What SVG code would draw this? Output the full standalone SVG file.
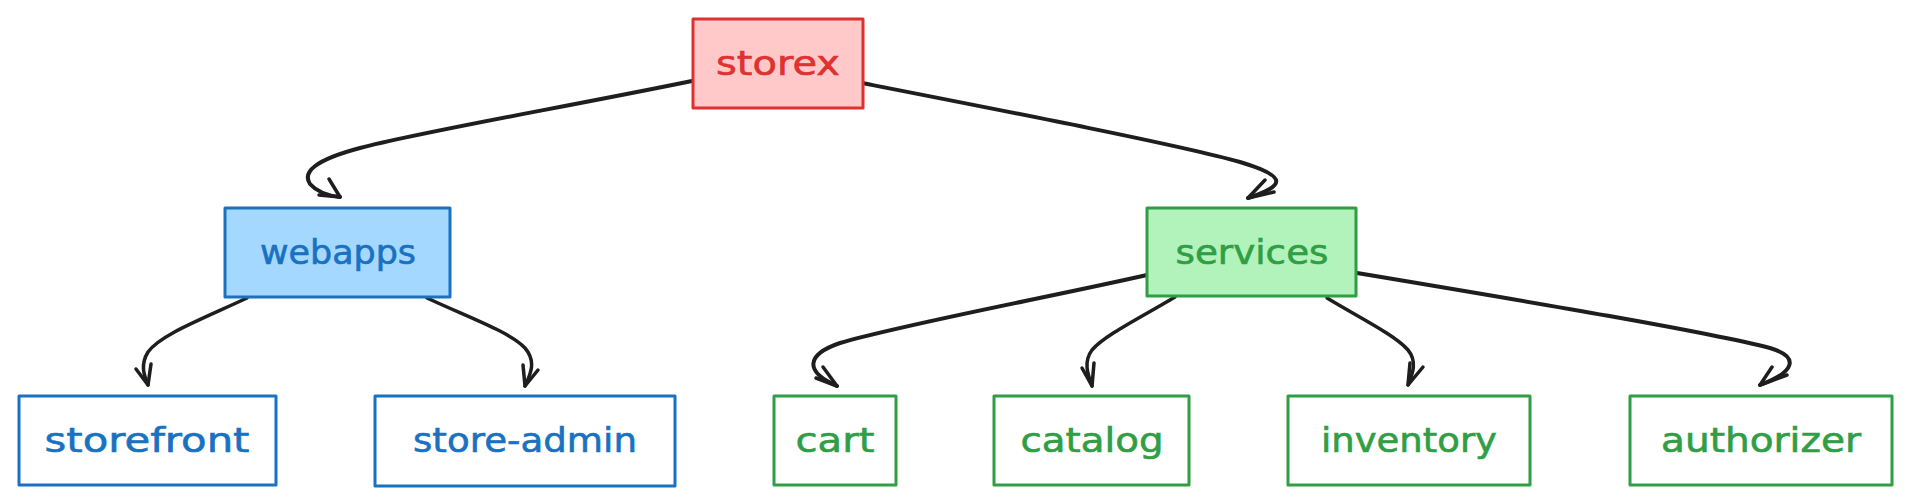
<svg xmlns="http://www.w3.org/2000/svg" width="1911" height="504" viewBox="0 0 1911 504">
<style>
  .box { stroke-width: 3; stroke-linejoin: round; }
  .red { fill: #ffc9c9; stroke: #e03131; }
  .blue { fill: #a5d8ff; stroke: #1971c2; }
  .green { fill: #b2f2bb; stroke: #2f9e44; }
  .leafb { fill: #ffffff; stroke: #1971c2; }
  .leafg { fill: #ffffff; stroke: #2f9e44; }
  .lbl { font-family: "DejaVu Sans", "Liberation Sans", sans-serif; font-size: 33px; text-anchor: middle; stroke-width: 0.6; }
  .tred { fill: #e03131; stroke: #e03131; }
  .tblue { fill: #1971c2; stroke: #1971c2; }
  .tgreen { fill: #2f9e44; stroke: #2f9e44; }
  .conn { fill: none; stroke: #1e1e1e; stroke-width: 4; stroke-linecap: round; stroke-linejoin: round; }
  .thin { stroke-width: 3.5; }
  .head { fill: none; stroke: #1e1e1e; stroke-width: 3.5; stroke-linecap: round; stroke-linejoin: round; }
</style>
<rect width="1911" height="504" fill="#ffffff"/>
<g id="connectors">
  <path class="conn" d="M692,81 C560,108 420,132 360,148 C315,160 302,172 310,184 C318,193 330,196 340,197"/>
  <path class="head" d="M329,179 L340,197 L319,195"/>
  <path class="conn" d="M862,83 C1000,110 1180,145 1240,162 C1290,177 1284,186 1248,198"/>
  <path class="head" d="M1265,180 L1248,198 L1274,192"/>
  <path class="conn thin" d="M247,298 C200,320 160,335 148,352 C140,365 144,375 148,385"/>
  <path class="head" d="M136,369 L148,385 L151,364"/>
  <path class="conn thin" d="M427,298 C470,318 510,332 525,348 C537,362 530,375 525,386"/>
  <path class="head" d="M523,365 L525,386 L538,370"/>
  <path class="conn" d="M1147,275 C1050,297 900,325 840,343 C805,355 805,372 837,386"/>
  <path class="head" d="M823,367 L837,386 L816,378"/>
  <path class="conn thin" d="M1175,297 C1140,318 1105,335 1092,350 C1083,362 1088,375 1092,386"/>
  <path class="head" d="M1082,368 L1092,386 L1094,363"/>
  <path class="conn thin" d="M1327,298 C1360,318 1395,335 1408,350 C1418,362 1412,375 1408,385"/>
  <path class="head" d="M1410,363 L1408,385 L1423,367"/>
  <path class="conn" d="M1357,273 C1500,297 1700,330 1770,348 C1800,357 1795,372 1760,385"/>
  <path class="head" d="M1772,367 L1760,385 L1787,375"/>
</g>
<g id="storex">
  <rect class="box red" x="693" y="19" width="170" height="89"/>
  <text class="lbl tred" x="778" y="75" textLength="124" lengthAdjust="spacingAndGlyphs">storex</text>
</g>
<g id="webapps">
  <rect class="box blue" x="225" y="208" width="225" height="89"/>
  <text class="lbl tblue" x="338" y="264" textLength="156" lengthAdjust="spacingAndGlyphs">webapps</text>
</g>
<g id="services">
  <rect class="box green" x="1147" y="208" width="209" height="88"/>
  <text class="lbl tgreen" x="1252" y="264" textLength="153" lengthAdjust="spacingAndGlyphs">services</text>
</g>
<g id="storefront">
  <rect class="box leafb" x="19" y="396" width="257" height="89"/>
  <text class="lbl tblue" x="147" y="452" textLength="205" lengthAdjust="spacingAndGlyphs">storefront</text>
</g>
<g id="store-admin">
  <rect class="box leafb" x="375" y="396" width="300" height="90"/>
  <text class="lbl tblue" x="525" y="452" textLength="224" lengthAdjust="spacingAndGlyphs">store-admin</text>
</g>
<g id="cart">
  <rect class="box leafg" x="774" y="396" width="122" height="89"/>
  <text class="lbl tgreen" x="835" y="452" textLength="79" lengthAdjust="spacingAndGlyphs">cart</text>
</g>
<g id="catalog">
  <rect class="box leafg" x="994" y="396" width="195" height="89"/>
  <text class="lbl tgreen" x="1092" y="452" textLength="143" lengthAdjust="spacingAndGlyphs">catalog</text>
</g>
<g id="inventory">
  <rect class="box leafg" x="1288" y="396" width="242" height="89"/>
  <text class="lbl tgreen" x="1409" y="452" textLength="176" lengthAdjust="spacingAndGlyphs">inventory</text>
</g>
<g id="authorizer">
  <rect class="box leafg" x="1630" y="396" width="262" height="89"/>
  <text class="lbl tgreen" x="1761" y="452" textLength="200" lengthAdjust="spacingAndGlyphs">authorizer</text>
</g>
</svg>
